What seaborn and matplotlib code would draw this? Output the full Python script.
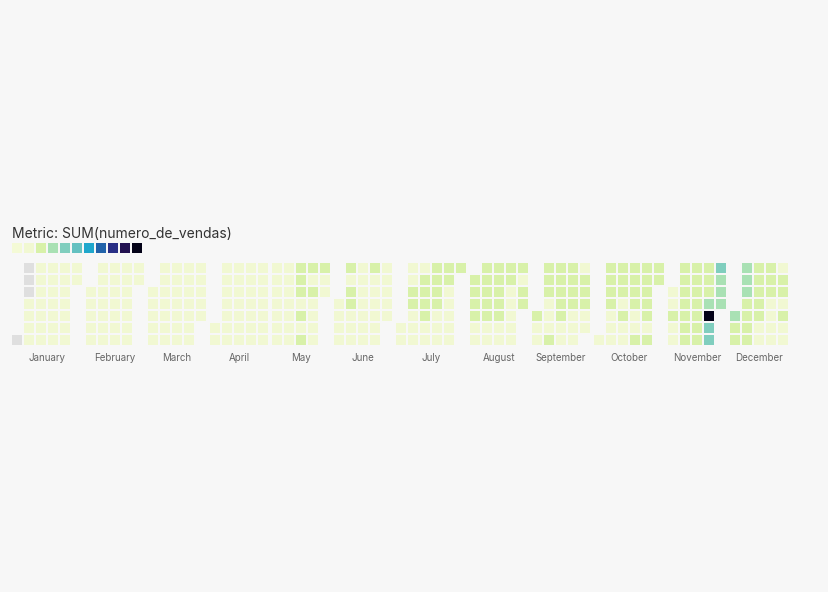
"""
Calendar heatmap of daily sales (SUM(numero_de_vendas)) for one year,
one small seaborn heatmap per month, laid out like cal-heatmap.
"""

import calendar
import datetime

import numpy as np
import matplotlib
matplotlib.use("Agg")
import matplotlib.pyplot as plt
from matplotlib.colors import ListedColormap
import seaborn as sns

YEAR = 2022
METRIC_LABEL = "Metric: SUM(numero_de_vendas)"
MONTH_NAMES = ["January", "February", "March", "April", "May", "June",
               "July", "August", "September", "October", "November", "December"]

# daily sales per month (None = no data for that day)
jan = [None, None, None, None, 2, 2, 2, 2, 2, 2,
       2, 2, 2, 2, 2, 2, 2, 2, 2, 2,
       2, 2, 2, 2, 2, 2, 2, 2, 2, 2,
       2]
feb = [2, 2, 2, 2, 2, 2, 2, 2, 2, 2,
       2, 2, 2, 2, 2, 2, 2, 2, 2, 2,
       2, 2, 2, 2, 2, 2, 2, 2]
mar = [2, 2, 2, 2, 2, 2, 2, 2, 2, 2,
       2, 2, 2, 2, 2, 2, 2, 2, 2, 2,
       2, 2, 2, 2, 2, 2, 2, 2, 2, 2,
       2]
apr = [2, 2, 2, 2, 2, 2, 2, 2, 2, 2,
       2, 2, 2, 2, 2, 2, 2, 2, 2, 2,
       2, 2, 2, 2, 2, 2, 2, 2, 2, 2]
may = [2, 2, 2, 2, 2, 2, 2, 2, 2, 2,
       2, 2, 2, 2, 5, 5, 5, 2, 5, 2,
       5, 5, 2, 5, 2, 2, 2, 2, 5, 2,
       2]
jun = [2, 2, 2, 2, 5, 2, 5, 5, 2, 2,
       2, 2, 2, 2, 2, 2, 2, 2, 5, 2,
       2, 2, 2, 2, 2, 2, 2, 2, 2, 2]
jul = [2, 2, 2, 2, 5, 5, 2, 2, 2, 2,
       5, 5, 5, 5, 2, 2, 5, 5, 5, 5,
       2, 2, 2, 5, 5, 2, 2, 2, 2, 2,
       5]
aug = [5, 5, 5, 5, 2, 2, 5, 5, 5, 5,
       5, 2, 2, 5, 5, 5, 5, 5, 2, 2,
       5, 5, 2, 2, 2, 2, 2, 5, 2, 5,
       5]
sep = [5, 2, 2, 5, 5, 5, 2, 2, 2, 5,
       5, 5, 5, 5, 5, 2, 2, 5, 5, 5,
       5, 2, 2, 2, 2, 5, 5, 5, 2, 2]
oct_ = [2, 5, 5, 5, 5, 2, 2, 2, 5, 5,
        5, 2, 5, 2, 2, 5, 5, 5, 5, 2,
        2, 5, 5, 5, 5, 5, 5, 2, 5, 5,
        5]
nov = [2, 2, 5, 2, 2, 5, 5, 5, 5, 5,
       5, 5, 5, 5, 5, 5, 5, 5, 5, 5,
       5, 5, 7, 21, 9, 9, 9, 7, 7, 7]
dec = [7, 5, 5, 7, 7, 7, 5, 5, 5, 5,
       5, 5, 5, 5, 5, 2, 2, 5, 5, 5,
       2, 2, 2, 2, 2, 5, 5, 2, 5, 2,
       2]
MONTH_VALUES = [jan, feb, mar, apr, may, jun, jul, aug, sep, oct_, nov, dec]

# legend colours (11 quantized steps)
PALETTE = ["#f4fad6", "#f1f8d2", "#d8f1a9", "#a9e1b4", "#80cebe", "#64c1c1",
           "#1fa7cc", "#2263aa", "#292f86", "#221150", "#040318"]
VMIN, VMAX = 0, 22
NO_DATA_COLOR = "#dfdfdf"
BG = "#f7f7f7"

W, H = 829, 592
CELL = 12          # cell pitch in px (10px square + 2px gap)
GUTTER = 2         # extra space between months
LEFT, TOP = 11, 262


def month_matrix(values, month):
    """Return (data, no_data) 7 x ncols matrices, Sunday-first rows."""
    offset = (datetime.date(YEAR, month, 1).weekday() + 1) % 7
    ndays = calendar.monthrange(YEAR, month)[1]
    ncols = int(np.ceil((offset + ndays) / 7))
    data = np.full((7, ncols), np.nan)
    nodata = np.full((7, ncols), np.nan)
    for i, v in enumerate(values):
        pos = offset + i
        r, c = pos % 7, pos // 7
        if v is None:
            nodata[r, c] = 1
        else:
            data[r, c] = v
    return data, nodata


def px_axes(fig, left, top, width, height):
    return fig.add_axes([left / W, 1 - (top + height) / H, width / W, height / H])


def main():
    sns.set_theme(style="white", rc={"figure.facecolor": BG, "axes.facecolor": BG})
    plt.rcParams["font.family"] = ["Inter", "DejaVu Sans"]

    fig = plt.figure(figsize=(W / 100, H / 100), dpi=100)
    cmap = ListedColormap(PALETTE)
    lw = 2 * 72 / 100

    fig.text(12 / W, 1 - 238 / H, METRIC_LABEL, fontsize=10, color="#333333",
             va="baseline", ha="left")

    # legend swatches
    lax = px_axes(fig, LEFT, 242, len(PALETTE) * CELL, CELL)
    steps = np.arange(len(PALETTE)) * 2 + 1
    sns.heatmap(steps[None, :], cmap=cmap, vmin=VMIN, vmax=VMAX, cbar=False,
                linewidths=lw, linecolor=BG, xticklabels=False, yticklabels=False, ax=lax)

    x = LEFT
    for m, (name, vals) in enumerate(zip(MONTH_NAMES, MONTH_VALUES), start=1):
        data, nodata = month_matrix(vals, m)
        ncols = data.shape[1]
        ax = px_axes(fig, x, TOP, ncols * CELL, 7 * CELL)
        if not np.all(np.isnan(nodata)):
            sns.heatmap(nodata, cmap=ListedColormap([NO_DATA_COLOR]), mask=np.isnan(nodata),
                        cbar=False, linewidths=lw, linecolor=BG,
                        xticklabels=False, yticklabels=False, ax=ax)
        sns.heatmap(data, cmap=cmap, vmin=VMIN, vmax=VMAX, mask=np.isnan(data),
                    cbar=False, linewidths=lw, linecolor=BG,
                    xticklabels=False, yticklabels=False, ax=ax)
        ax.set_facecolor(BG)
        fig.text((x + ncols * CELL / 2) / W, 1 - 358 / H, name, fontsize=7,
                 color="#666666", ha="center", va="center")
        x += ncols * CELL + GUTTER

    fig.savefig("out.png", dpi=100, facecolor=BG)


if __name__ == "__main__":
    main()
